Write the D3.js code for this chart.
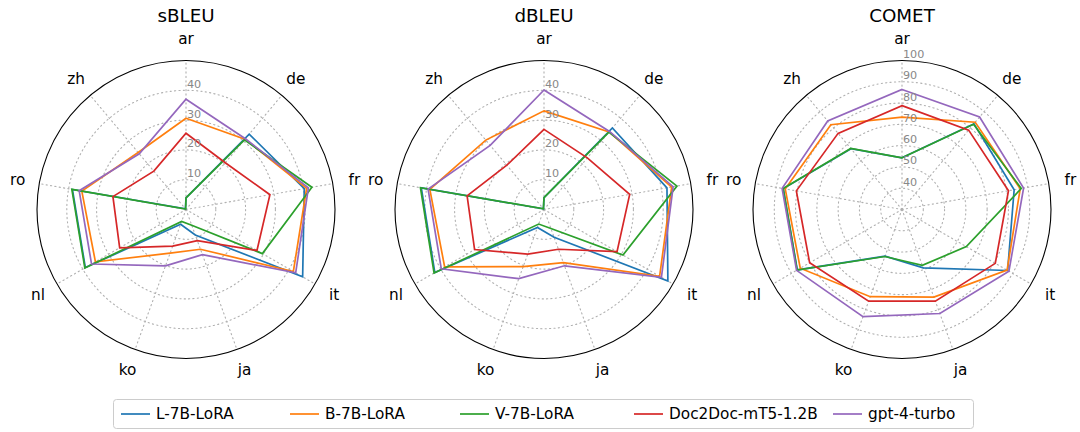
<!DOCTYPE html>
<html><head><meta charset="utf-8">
<script src="https://cdn.jsdelivr.net/npm/d3@7"></script>
<style>
html,body{margin:0;padding:0;background:#fff;}
svg{display:block;font-family:"DejaVu Sans",sans-serif;}
</style></head>
<body>
<svg id="chart" width="1080" height="432"></svg>
<script>
// ---------- data ----------
const categories = ["ar","de","fr","it","ja","ko","nl","ro","zh"];
const seriesNames = ["L-7B-LoRA","B-7B-LoRA","V-7B-LoRA","Doc2Doc-mT5-1.2B","gpt-4-turbo"];
const seriesColors = ["#1f77b4","#ff7f0e","#2ca02c","#d62728","#9467bd"];
const metricTitles = ["sBLEU","dBLEU","COMET"];

// order of each array follows `categories`
const sBLEU_L = [3.9, 33.0, 40.3, 45.2, 9.1, 5.3, 39.0, 38.7, 0.3];
const sBLEU_B = [30.6, 30.8, 41.1, 41.6, 14.2, 15.6, 35.1, 35.5, 25.0];
const sBLEU_V = [3.9, 30.5, 42.9, 29.6, 5.6, 4.3, 39.2, 38.9, 0.2];
const sBLEU_D = [25.6, 20.5, 28.6, 27.5, 11.1, 13.1, 25.7, 24.9, 16.8];
const sBLEU_G = [37.0, 31.0, 41.7, 42.5, 16.1, 20.1, 36.6, 36.4, 24.4];

const dBLEU_L = [4.0, 35.7, 41.9, 48.0, 9.9, 6.4, 42.3, 41.8, 0.3];
const dBLEU_B = [33.1, 34.0, 43.5, 44.8, 19.0, 20.4, 38.5, 38.9, 30.4];
const dBLEU_V = [4.0, 33.9, 45.3, 30.6, 6.8, 5.2, 42.6, 42.1, 0.3];
const dBLEU_D = [26.9, 22.6, 29.2, 28.3, 14.2, 15.9, 26.9, 26.2, 19.4];
const dBLEU_G = [40.1, 34.2, 44.0, 45.5, 20.1, 24.7, 39.8, 39.5, 28.1];

const COMET_L = [54.3, 82.6, 83.5, 87.3, 59.2, 53.3, 86.8, 86.6, 67.3];
const COMET_B = [73.4, 83.5, 86.4, 87.0, 73.8, 73.6, 85.2, 85.7, 82.0];
const COMET_V = [54.3, 82.3, 86.9, 64.9, 57.9, 53.5, 86.9, 86.7, 67.4];
const COMET_D = [78.8, 78.7, 80.8, 80.6, 75.8, 75.8, 80.1, 80.4, 76.7];
const COMET_G = [86.4, 86.7, 88.0, 88.0, 82.0, 83.6, 87.2, 87.2, 84.3];

const bleuTicks = [10, 20, 30, 40];
const cometTicks = [40, 50, 60, 70, 80, 90, 100];
const bleuDomain = [0, 50];
const cometDomain = [30, 100];

// ---------- layout ----------
const svg = d3.select("#chart");
const R = 149;
const cy = 209.5;
const centers = [186, 544, 902];

const panels = [
  {title: metricTitles[0], domain: bleuDomain, ticks: bleuTicks, data: [sBLEU_L, sBLEU_B, sBLEU_V, sBLEU_D, sBLEU_G], dot: false},
  {title: metricTitles[1], domain: bleuDomain, ticks: bleuTicks, data: [dBLEU_L, dBLEU_B, dBLEU_V, dBLEU_D, dBLEU_G], dot: false},
  {title: metricTitles[2], domain: cometDomain, ticks: cometTicks, data: [COMET_L, COMET_B, COMET_V, COMET_D, COMET_G], dot: true}
];

const angle = d3.scaleLinear().domain([0, categories.length]).range([0, 2 * Math.PI]);
const gridColor = "#b0b0b0";

panels.forEach((p, pi) => {
  const g = svg.append("g").attr("transform", `translate(${centers[pi]},${cy})`);
  const r = d3.scaleLinear().domain(p.domain).range([0, R]);

  // grid circles
  g.selectAll("circle.grid").data(p.ticks.filter(t => t < p.domain[1])).join("circle")
    .attr("class", "grid").attr("r", d => r(d))
    .attr("fill", "none").attr("stroke", gridColor).attr("stroke-width", 1.1)
    .attr("stroke-dasharray", "1.2,3.2").attr("stroke-linecap", "round");
  if (p.dot) {
    g.append("circle").attr("r", 1.2).attr("fill", "#999");
  }
  // spokes
  g.selectAll("line.spoke").data(categories).join("line")
    .attr("class", "spoke")
    .attr("x1", 0).attr("y1", 0)
    .attr("x2", (d, i) => R * Math.sin(angle(i)))
    .attr("y2", (d, i) => -R * Math.cos(angle(i)))
    .attr("stroke", gridColor).attr("stroke-width", 1.1)
    .attr("stroke-dasharray", "1.2,3.2").attr("stroke-linecap", "round");

  // series
  const line = d3.lineRadial()
    .angle((d, i) => angle(i))
    .radius(d => r(d))
    .curve(d3.curveLinearClosed);
  p.data.forEach((vals, si) => {
    g.append("path").attr("d", line(vals))
      .attr("fill", "none").attr("stroke", seriesColors[si])
      .attr("stroke-width", 1.7).attr("stroke-linejoin", "miter");
  });

  // outer spine
  g.append("circle").attr("r", R).attr("fill", "none").attr("stroke", "#000").attr("stroke-width", 1.1);

  // radial tick labels
  g.selectAll("text.rtick").data(p.ticks).join("text")
    .attr("class", "rtick")
    .attr("x", 1).attr("y", d => -r(d) - 2.5)
    .attr("font-size", 11.2).attr("fill", "#888")
    .text(d => d);

  // category labels
  const LR = 171;
  g.selectAll("text.cat").data(categories).join("text")
    .attr("class", "cat")
    .attr("x", (d, i) => LR * Math.sin(angle(i)))
    .attr("y", (d, i) => -LR * Math.cos(angle(i)))
    .attr("text-anchor", "middle").attr("dominant-baseline", "central")
    .attr("font-size", 15.3).attr("fill", "#000")
    .text(d => d);

  // title
  g.append("text").attr("x", 0).attr("y", -cy + 21.5)
    .attr("text-anchor", "middle").attr("font-size", 18.3).attr("fill", "#000")
    .text(p.title);
});

// ---------- legend ----------
const legendX = [121, 290, 460, 634, 833];
const leg = svg.append("g");
leg.append("rect").attr("x", 113.5).attr("y", 399.5).attr("width", 860).attr("height", 29)
  .attr("rx", 3).attr("fill", "#fff").attr("stroke", "#cccccc").attr("stroke-width", 1);
seriesNames.forEach((name, i) => {
  leg.append("line").attr("x1", legendX[i]).attr("x2", legendX[i] + 29)
    .attr("y1", 414).attr("y2", 414)
    .attr("stroke", seriesColors[i]).attr("stroke-width", 1.7);
  leg.append("text").attr("x", legendX[i] + 35).attr("y", 414)
    .attr("dominant-baseline", "central").attr("font-size", 15.3).attr("fill", "#000")
    .text(name);
});
</script>
</body></html>
